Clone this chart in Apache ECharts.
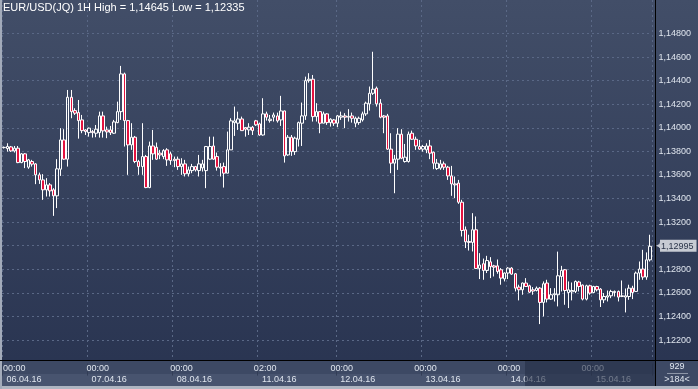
<!DOCTYPE html>
<html><head><meta charset="utf-8">
<script src="https://cdn.jsdelivr.net/npm/echarts@6/dist/echarts.min.js"></script>
<style>html,body{margin:0;padding:0;background:#2e3954;}#c{width:698px;height:389px;}</style>
</head><body><div id="c"></div>
<script>
const days = ['06.04.16','07.04.16','08.04.16','11.04.16','12.04.16','13.04.16','14.04.16','15.04.16'];
const dayStartHour = [0,0,0,2,0,0,0,0];
const dayCandles = [24,24,24,22,24,24,24,17];

const open = [1.13832,1.13824,1.13838,1.13804,1.13827,1.13705,1.13779,1.13666,1.13714,1.13694,
1.13601,1.13558,1.13474,1.13516,1.13474,1.13423,1.13649,1.13897,1.13734,1.14259,
1.14146,1.14129,1.14067,1.13982,1.13959,1.13968,1.13954,1.13959,1.14101,1.13982,
1.13982,1.13954,1.14044,1.14137,1.14457,1.14061,1.13855,1.1392,1.13714,1.13671,
1.13756,1.13493,1.13846,1.13835,1.13785,1.13756,1.13813,1.13779,1.13734,1.13734,
1.13671,1.13694,1.1361,1.13637,1.13671,1.13637,1.1366,1.13637,1.13734,1.13846,
1.13756,1.13666,1.13671,1.13615,1.13813,1.14044,1.14039,1.14075,1.14002,1.13982,
1.14005,1.14059,1.14033,1.13939,1.14118,1.14061,1.1409,1.14101,1.14067,1.14143,
1.1377,1.1392,1.13798,1.13903,1.14039,1.14101,1.144,1.14412,1.14095,1.14137,
1.14039,1.14118,1.14044,1.14067,1.14039,1.1409,1.14101,1.1409,1.14101,1.14039,
1.14044,1.14067,1.14118,1.14203,1.14293,1.14336,1.14209,1.14101,1.14101,1.13819,
1.137,1.13734,1.13946,1.13714,1.13714,1.13954,1.13903,1.13841,1.13819,1.13813,
1.13846,1.13793,1.13654,1.13658,1.13694,1.13666,1.13592,1.13524,1.13531,1.13369,
1.13135,1.13036,1.13028,1.13135,1.12807,1.12847,1.1279,1.12863,1.12829,1.12829,
1.12796,1.12719,1.12768,1.1281,1.12762,1.12649,1.12626,1.12683,1.1266,1.12626,
1.1262,1.1264,1.12519,1.12683,1.12547,1.12584,1.12584,1.12739,1.12796,1.12603,
1.12609,1.12612,1.12692,1.12666,1.12547,1.1266,1.12603,1.12654,1.12632,1.12541,
1.12564,1.12575,1.12603,1.12612,1.12569,1.12564,1.12569,1.1264,1.12612,1.12768,
1.12802,1.12734,1.1288];

const close = [1.13834,1.13841,1.13804,1.13827,1.13705,1.13779,1.13714,1.13728,1.13692,1.13601,
1.13558,1.13474,1.13516,1.13465,1.13423,1.13652,1.13897,1.13734,1.14259,1.14137,
1.14124,1.14061,1.13976,1.13968,1.13997,1.13959,1.13988,1.14101,1.13974,1.13965,
1.13959,1.1405,1.14137,1.14457,1.14061,1.13855,1.1392,1.13714,1.13671,1.13756,
1.13493,1.13846,1.13779,1.13734,1.1377,1.13807,1.13728,1.13722,1.13722,1.13671,
1.13694,1.1361,1.13643,1.13671,1.13643,1.13694,1.13694,1.13841,1.13841,1.13734,
1.13666,1.13658,1.13615,1.13813,1.14059,1.14059,1.14075,1.13976,1.13988,1.14005,
1.13976,1.14025,1.13939,1.14118,1.1409,1.14073,1.14109,1.14059,1.14143,1.13762,
1.1392,1.13798,1.13912,1.14044,1.14101,1.144,1.14412,1.14095,1.14137,1.14039,
1.14118,1.14044,1.14073,1.14039,1.14101,1.14101,1.1409,1.14097,1.14081,1.14081,
1.14081,1.14118,1.14209,1.14293,1.14327,1.14203,1.1409,1.1409,1.13819,1.137,
1.13734,1.13946,1.13742,1.13751,1.13946,1.13903,1.13846,1.13819,1.13841,1.13846,
1.13785,1.137,1.137,1.13694,1.13666,1.13592,1.13524,1.13516,1.13369,1.13129,
1.13033,1.13028,1.13135,1.12807,1.12836,1.1279,1.12874,1.12823,1.12818,1.12781,
1.12725,1.12768,1.1281,1.12759,1.1264,1.12626,1.12683,1.12654,1.12606,1.12615,
1.1264,1.12519,1.12677,1.12547,1.12584,1.12592,1.12745,1.1279,1.1262,1.12626,
1.1262,1.12697,1.12654,1.12547,1.1266,1.12598,1.12654,1.12626,1.12541,1.12569,
1.12575,1.12612,1.12612,1.12564,1.12575,1.12575,1.1264,1.12603,1.12768,1.12802,
1.12734,1.1288,1.12995];

const low = [1.13824,1.13798,1.13796,1.1379,1.137,1.137,1.13658,1.13652,1.13671,1.13522,
1.13524,1.13389,1.13417,1.13417,1.13253,1.13319,1.13592,1.13728,1.13671,1.14081,
1.14109,1.13908,1.13954,1.13939,1.13925,1.13917,1.1392,1.13917,1.13917,1.13912,
1.13939,1.13948,1.14039,1.14067,1.13841,1.13601,1.13813,1.137,1.13601,1.13601,
1.13488,1.13488,1.13728,1.13728,1.13734,1.13734,1.13677,1.13686,1.13666,1.13643,
1.13601,1.13587,1.13587,1.13615,1.13629,1.13587,1.13629,1.13488,1.13728,1.13728,
1.13637,1.13587,1.13493,1.13615,1.13813,1.13931,1.13982,1.13976,1.13925,1.13939,
1.13939,1.14016,1.13933,1.13933,1.14061,1.14044,1.14053,1.14044,1.14016,1.13705,
1.13762,1.13762,1.1377,1.13841,1.13846,1.14067,1.14383,1.14053,1.14053,1.13954,
1.14039,1.14025,1.1401,1.14016,1.14005,1.14067,1.13997,1.14053,1.14044,1.14005,
1.14025,1.14053,1.14101,1.14146,1.14279,1.1418,1.14081,1.13954,1.13813,1.13615,
1.13445,1.13643,1.13734,1.13705,1.13705,1.13897,1.13813,1.13813,1.13798,1.13785,
1.13734,1.13649,1.13643,1.13643,1.13643,1.13558,1.13423,1.13403,1.13355,1.13078,
1.1298,1.12959,1.12951,1.12802,1.12717,1.12711,1.12768,1.12725,1.12739,1.12762,
1.12669,1.12697,1.12717,1.12753,1.12612,1.12536,1.12584,1.12654,1.12598,1.12584,
1.12612,1.12335,1.124,1.12519,1.12541,1.12527,1.12485,1.12612,1.12499,1.12471,
1.12536,1.12598,1.12612,1.12536,1.12536,1.12584,1.12598,1.12612,1.1248,1.12513,
1.12527,1.12555,1.12569,1.12527,1.12564,1.12434,1.12541,1.12547,1.12612,1.12711,
1.12711,1.12711,1.12866];

const high = [1.13841,1.13869,1.13846,1.13846,1.13846,1.13785,1.13785,1.13736,1.13728,1.137,
1.1362,1.13607,1.13573,1.13531,1.13488,1.13734,1.13997,1.13988,1.14321,1.14321,
1.14166,1.14236,1.14109,1.13988,1.14002,1.13982,1.14024,1.14137,1.14137,1.1401,
1.14016,1.14067,1.14222,1.14525,1.14468,1.14067,1.14039,1.13931,1.13728,1.14039,
1.1377,1.13883,1.13982,1.13875,1.13813,1.13819,1.13827,1.13798,1.13756,1.13756,
1.13742,1.13728,1.13671,1.13694,1.13677,1.1377,1.13728,1.13846,1.13925,1.13925,
1.1379,1.137,1.13705,1.13968,1.14081,1.1418,1.14137,1.14095,1.14005,1.14039,
1.14016,1.14067,1.14044,1.14251,1.14137,1.14109,1.14129,1.14129,1.14271,1.14146,
1.13939,1.13939,1.13925,1.14053,1.14214,1.14434,1.14463,1.14448,1.14209,1.14137,
1.14137,1.14124,1.14081,1.14075,1.14109,1.14137,1.14124,1.14158,1.14129,1.14095,
1.14095,1.14137,1.14222,1.1435,1.14645,1.1435,1.14243,1.14109,1.14118,1.13954,
1.1377,1.13997,1.13988,1.13863,1.13968,1.13976,1.13925,1.13897,1.13855,1.13869,
1.13897,1.13798,1.13736,1.13728,1.13714,1.13677,1.13677,1.13587,1.13558,1.13389,
1.13163,1.13093,1.13276,1.13248,1.12937,1.12891,1.12914,1.12903,1.12838,1.12883,
1.1281,1.12773,1.12818,1.12818,1.12768,1.12669,1.12688,1.12725,1.12669,1.12649,
1.12654,1.12649,1.12697,1.12711,1.1264,1.1264,1.1295,1.12829,1.12802,1.12697,
1.12688,1.12705,1.12702,1.12671,1.12669,1.12669,1.1266,1.1266,1.1264,1.12598,
1.1262,1.12626,1.1262,1.1262,1.12705,1.12637,1.12669,1.1266,1.12781,1.12866,
1.12965,1.12943,1.13093];

const barCount = '929';
const visibleCount = '>184<';

// categories built from the day list
const cats = [];
const dayStarts = [];
days.forEach((d, k) => {
  dayStarts.push(cats.length);
  for (let h = 0; h < dayCandles[k]; h++) {
    cats.push(d + ' ' + String(dayStartHour[k] + h).padStart(2, '0') + ':00');
  }
});
const isDayStart = (i) => dayStarts.indexOf(i) >= 0;
const fmt = (v) => v.toFixed(5).replace('.', ',');
const ohlc = open.map((o, i) => [o, close[i], low[i], high[i]]);
const lastClose = close[close.length - 1];

const FONT = 'Liberation Sans';
const txt = '#dfe5ee';
const gridCol = '#5a6886';
const splitCols = [];
for (let i = 0; i <= 15; i++) splitCols.push((i === 0 || i === 15) ? 'rgba(0,0,0,0)' : gridCol);

const gData = { left: 2, right: 46, top: 9.9, bottom: 25.4 };
const gFull = { left: 2, right: 46, top: 0, bottom: 25.4 };

const chart = echarts.init(document.getElementById('c'), null, { renderer: 'canvas', width: 698, height: 389 });
chart.setOption({
  animation: false,
  title: {
    text: 'EUR/USD(JQ) 1H High = ' + fmt(Math.max(...high)) + ' Low = ' + fmt(Math.min(...low)),
    left: 3, top: 2, padding: 0,
    textStyle: { color: '#ffffff', fontSize: 11, fontWeight: 'normal', fontFamily: FONT }
  },
  grid: [gData, Object.assign({}, gFull), Object.assign({}, gFull), Object.assign({}, gFull)],
  xAxis: [
    { type: 'category', gridIndex: 0, data: cats, boundaryGap: true,
      axisLine: { show: false }, axisTick: { show: false }, axisLabel: { show: false }, splitLine: { show: false } },
    { type: 'category', gridIndex: 1, data: cats, boundaryGap: true,
      axisLine: { show: false }, axisTick: { show: false }, axisLabel: { show: false },
      splitLine: { show: true, interval: (i) => isDayStart(i), lineStyle: { color: gridCol, type: [2, 3], width: 1 } } },
    { type: 'category', gridIndex: 2, data: cats, boundaryGap: true, position: 'bottom', offset: -2, z: 60,
      axisLine: { show: false }, axisTick: { show: false }, splitLine: { show: false },
      axisLabel: { interval: (i) => isDayStart(i), formatter: (v) => v.slice(9), color: txt, fontSize: 9, fontFamily: FONT,
        margin: 2, align: 'center', padding: [0, 3.6, 0, 0] } },
    { type: 'category', gridIndex: 3, data: cats, boundaryGap: true, position: 'bottom', offset: 10.4, z: 60,
      axisLine: { show: false },
      axisTick: { show: true, interval: (i) => isDayStart(i), length: 12, lineStyle: { color: '#323d56', width: 1 } },
      splitLine: { show: false },
      axisLabel: { interval: (i) => isDayStart(i), formatter: (v) => v.slice(0, 8), color: txt, fontSize: 9, fontFamily: FONT,
        margin: 1, align: 'left', padding: [0, 0, 0, 2.6] } }
  ],
  yAxis: [
    { type: 'value', gridIndex: 0, position: 'right', min: 1.12, max: 1.15, interval: 0.002,
      axisLine: { show: false }, axisTick: { show: false },
      axisLabel: { formatter: (v) => (v > 1.1485 || v < 1.121) ? '' : fmt(v), color: txt, fontSize: 9, fontFamily: FONT, margin: 6.5 },
      splitLine: { show: true, lineStyle: { color: splitCols, type: [2, 3], width: 1 } } },
    { type: 'value', gridIndex: 1, show: false },
    { type: 'value', gridIndex: 2, show: false },
    { type: 'value', gridIndex: 3, show: false }
  ],
  series: [{
    type: 'candlestick', xAxisIndex: 0, yAxisIndex: 0, data: ohlc, barWidth: 3,
    itemStyle: { color: 'rgba(0,0,0,0)', color0: '#e3123f', borderColor: '#ffffff', borderColor0: '#ffffff', borderColorDoji: '#ffffff', borderWidth: 1 },
    markLine: {
      silent: true, symbol: ['none', 'none'], animation: false,
      lineStyle: { color: 'rgba(0,0,0,0)', width: 0 },
      data: [{ yAxis: lastClose }],
      label: { show: true, position: 'end', distance: 4, formatter: '{a|\u25C0}{b|' + fmt(lastClose) + '}',
        rich: {
          a: { color: '#c7cbd3', fontSize: 9, fontFamily: 'DejaVu Sans', width: 4 },
          b: { backgroundColor: '#c7cbd3', color: '#2a3448', fontSize: 9, fontFamily: FONT, padding: [2, 3, 1, 1], borderColor: '#9aa1ae', borderWidth: 0 }
        } }
    }
  }],
  graphic: [
    { type: 'rect', z: -100, silent: true, shape: { x: 0, y: 0, width: 698, height: 389 },
      style: { fill: new echarts.graphic.LinearGradient(0, 0, 0, 1, [{ offset: 0, color: '#424e68' }, { offset: 1, color: '#283350' }]) } },
    { type: 'rect', z: 50, silent: true, shape: { x: 0, y: 361, width: 698, height: 28 }, style: { fill: '#3d4964' } },
    { type: 'rect', z: 51, silent: true, shape: { x: 2, y: 374, width: 653, height: 12 }, style: { fill: '#48546f' } },
    { type: 'rect', z: 70, silent: true, shape: { x: 525, y: 361, width: 130, height: 25 }, style: { fill: 'rgba(36,46,70,0.6)' } },
    { type: 'rect', z: 80, silent: true, shape: { x: 0, y: 386, width: 698, height: 3 }, style: { fill: '#aeb5c1' } },
    { type: 'rect', z: 80, silent: true, shape: { x: 0, y: 0, width: 2, height: 389 }, style: { fill: '#a3abba' } },
    { type: 'line', z: 80, silent: true, shape: { x1: 0, y1: 360.5, x2: 698, y2: 360.5 }, style: { stroke: '#000000', lineWidth: 1 } },
    { type: 'line', z: 80, silent: true, shape: { x1: 655.5, y1: 0, x2: 655.5, y2: 386 }, style: { stroke: '#000000', lineWidth: 1 } },
    { type: 'text', z: 80, silent: true, x: 677, y: 367, style: { text: barCount, fill: txt, font: '9px "Liberation Sans"', textAlign: 'center', textVerticalAlign: 'middle' } },
    { type: 'line', z: 80, silent: true, shape: { x1: 667, y1: 373.5, x2: 688, y2: 373.5 }, style: { stroke: '#8d96a8', lineWidth: 1 } },
    { type: 'text', z: 80, silent: true, x: 677, y: 380, style: { text: visibleCount, fill: txt, font: '9px "Liberation Sans"', textAlign: 'center', textVerticalAlign: 'middle' } }
  ]
});
</script>
</body></html>
